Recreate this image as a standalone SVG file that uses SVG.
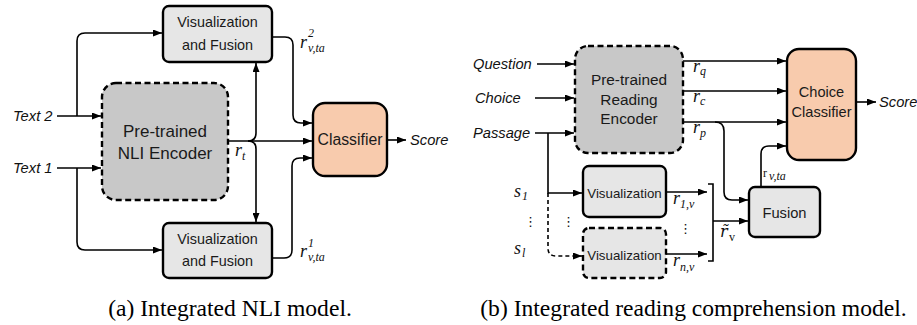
<svg xmlns="http://www.w3.org/2000/svg" width="917" height="325" viewBox="0 0 917 325">
<style>
.box{stroke:#000;stroke-width:2.4}
.vf{fill:#E6E6E6}
.enc{fill:#C8C8C8;stroke-dasharray:6 3.5}
.cls{fill:#F8CBAD}
.dash{stroke-dasharray:6 3.5}
.lbl{font-family:"Liberation Sans",Arial,sans-serif;fill:#1a1a1a;text-anchor:middle}
.it{font-family:"Liberation Sans",Arial,sans-serif;font-style:italic;font-size:14.7px;fill:#111}
.m{font-family:"Liberation Serif","Times New Roman",serif;font-style:italic;font-size:18px;fill:#111}
.s{font-size:12px}
.up{font-family:"Liberation Serif","Times New Roman",serif;font-size:12px;fill:#111}
.dots{font-family:"DejaVu Sans",sans-serif;font-size:13px;fill:#111}
.cap{font-family:"Liberation Serif","Times New Roman",serif;font-size:23.6px;fill:#000;text-anchor:middle}
.c{fill:none;stroke:#000;stroke-width:1.6}
.cd{fill:none;stroke:#000;stroke-width:1.6;stroke-dasharray:4 3}
</style>
<defs>
<marker id="ah" markerUnits="userSpaceOnUse" markerWidth="9" markerHeight="7" refX="9" refY="3.5" orient="auto">
<path d="M0,0 L9,3.5 L0,7 z" fill="#000"/>
</marker>
</defs>
<rect width="917" height="325" fill="#fff"/>

<g id="connectors">
<!-- (a) -->
<path class="c" d="M57,116 H101" marker-end="url(#ah)"/>
<path class="c" d="M77,116 V41 Q77,33 85,33 H162" marker-end="url(#ah)"/>
<path class="c" d="M57,168 H101" marker-end="url(#ah)"/>
<path class="c" d="M77,168 V242 Q77,250 85,250 H162" marker-end="url(#ah)"/>
<path class="c" d="M228,141 H312" marker-end="url(#ah)"/>
<path class="c" d="M248,141 Q256,141 256,133 V63" marker-end="url(#ah)"/>
<path class="c" d="M248,141 Q256,141 256,149 V222" marker-end="url(#ah)"/>
<path class="c" d="M272,37 H285 Q293,37 293,45 V115 Q293,123 301,123 H312" marker-end="url(#ah)"/>
<path class="c" d="M272,258 H284 Q292,258 292,250 V166 Q292,158 300,158 H312" marker-end="url(#ah)"/>
<path class="c" d="M387,140 H406" marker-end="url(#ah)"/>
<!-- (b) -->
<path class="c" d="M537,64 H574" marker-end="url(#ah)"/>
<path class="c" d="M535,98 H574" marker-end="url(#ah)"/>
<path class="c" d="M535,133 H574" marker-end="url(#ah)"/>
<path class="c" d="M548,133 V193 H582" marker-end="url(#ah)"/>
<path class="cd" d="M548,193 V248 Q548,256 556,256 H582" marker-end="url(#ah)"/>
<path class="c" d="M683,61 H786" marker-end="url(#ah)"/>
<path class="c" d="M683,91 H786" marker-end="url(#ah)"/>
<path class="c" d="M683,122 H786" marker-end="url(#ah)"/>
<path class="c" d="M715,122 Q724,122 724,131 V192 Q724,200 732,200 H748" marker-end="url(#ah)"/>
<path class="c" d="M761,187 V154 Q761,146 769,146 H786" marker-end="url(#ah)"/>
<path class="c" d="M666,192 H707" marker-end="url(#ah)"/>
<path class="c" d="M666,254 H707" marker-end="url(#ah)"/>
<path class="c" d="M708,184 H713 V261 H708"/>
<path class="c" d="M713,221 H748" marker-end="url(#ah)"/>
<path class="c" d="M856,102 H876" marker-end="url(#ah)"/>
</g>

<g id="vf-top">
<rect class="box vf" x="163" y="6" width="109" height="56" rx="6"/>
<text class="lbl" x="217.5" y="27" font-size="14.4">Visualization</text>
<text class="lbl" x="217.5" y="50" font-size="14.4">and Fusion</text>
</g>
<g id="vf-bottom">
<rect class="box vf" x="163" y="223" width="109" height="55" rx="6"/>
<text class="lbl" x="217.5" y="244" font-size="14.4">Visualization</text>
<text class="lbl" x="217.5" y="266" font-size="14.4">and Fusion</text>
</g>
<g id="nli-encoder">
<rect class="box enc" x="102" y="83" width="126" height="117" rx="14"/>
<text class="lbl" x="165" y="137" font-size="17">Pre-trained</text>
<text class="lbl" x="165" y="159" font-size="17">NLI Encoder</text>
</g>
<g id="classifier">
<rect class="box cls" x="313" y="103" width="74" height="73" rx="12"/>
<text class="lbl" x="350" y="145" font-size="15.8">Classifier</text>
</g>
<g id="labels-a">
<text class="it" x="13" y="121">Text 2</text>
<text class="it" x="13" y="173">Text 1</text>
<text class="it" x="410" y="145">Score</text>
<text class="m" x="235" y="156">r<tspan class="s" x="242" y="160">t</tspan></text>
<text class="m" x="300" y="48">r<tspan class="s" x="308" y="37">2</tspan><tspan class="s" x="308" y="52">v,ta</tspan></text>
<text class="m" x="300" y="257">r<tspan class="s" x="308" y="247">1</tspan><tspan class="s" x="308" y="261">v,ta</tspan></text>
</g>

<g id="reading-encoder">
<rect class="box enc" x="575" y="46" width="108" height="107" rx="13"/>
<text class="lbl" x="629" y="85" font-size="15.4">Pre-trained</text>
<text class="lbl" x="629" y="105" font-size="15.4">Reading</text>
<text class="lbl" x="629" y="124" font-size="15.4">Encoder</text>
</g>
<g id="choice-classifier">
<rect class="box cls" x="787" y="49" width="69" height="111" rx="12"/>
<text class="lbl" x="821.5" y="97" font-size="14.6">Choice</text>
<text class="lbl" x="821.5" y="117" font-size="14.6">Classifier</text>
</g>
<g id="visualization-1">
<rect class="box vf" x="583" y="166" width="83" height="51" rx="6"/>
<text class="lbl" x="624.5" y="198" font-size="13.3">Visualization</text>
</g>
<g id="visualization-n">
<rect class="box vf dash" x="583" y="228" width="83" height="50" rx="6"/>
<text class="lbl" x="624.5" y="260" font-size="13.3">Visualization</text>
</g>
<g id="fusion">
<rect class="box vf" x="749" y="187" width="71" height="50" rx="6"/>
<text class="lbl" x="784.5" y="218" font-size="14.7">Fusion</text>
</g>
<g id="labels-b">
<text class="it" x="473" y="69">Question</text>
<text class="it" x="475" y="103">Choice</text>
<text class="it" x="473" y="138">Passage</text>
<text class="it" x="879" y="107">Score</text>
<text class="m" x="693" y="72">r<tspan class="s" x="700" y="75">q</tspan></text>
<text class="m" x="693" y="102">r<tspan class="s" x="700" y="105">c</tspan></text>
<text class="m" x="693" y="133">r<tspan class="s" x="700" y="137">p</tspan></text>
<text class="up" x="763" y="177" font-size="15">r<tspan class="m s" x="769" y="180">v,ta</tspan></text>
<text class="m" x="673" y="204">r<tspan class="up" x="680" y="208">1,v</tspan></text>
<text class="m" x="673" y="266">r<tspan class="m s" x="680" y="271">n</tspan><tspan class="up" y="271">,v</tspan></text>
<text x="720" y="237" font-family="DejaVu Serif, serif" font-style="italic" font-size="16" fill="#111">r&#x303;<tspan font-family="Liberation Serif, serif" font-style="normal" font-size="12" x="729" y="241">v</tspan></text>
<text class="m" x="514" y="197">s<tspan class="up" x="522" y="200">1</tspan></text>
<text class="m" x="514" y="254">s<tspan class="s" x="522" y="257">l</tspan></text>
<text class="dots" x="524" y="226">⋮</text>
<text class="dots" x="562" y="226">⋮</text>
<text class="dots" x="679" y="233">⋮</text>
</g>

<g id="captions">
<text class="cap" x="230" y="316">(a)  Integrated NLI model.</text>
<text class="cap" x="693.5" y="316">(b)  Integrated reading comprehension model.</text>
</g>
</svg>
